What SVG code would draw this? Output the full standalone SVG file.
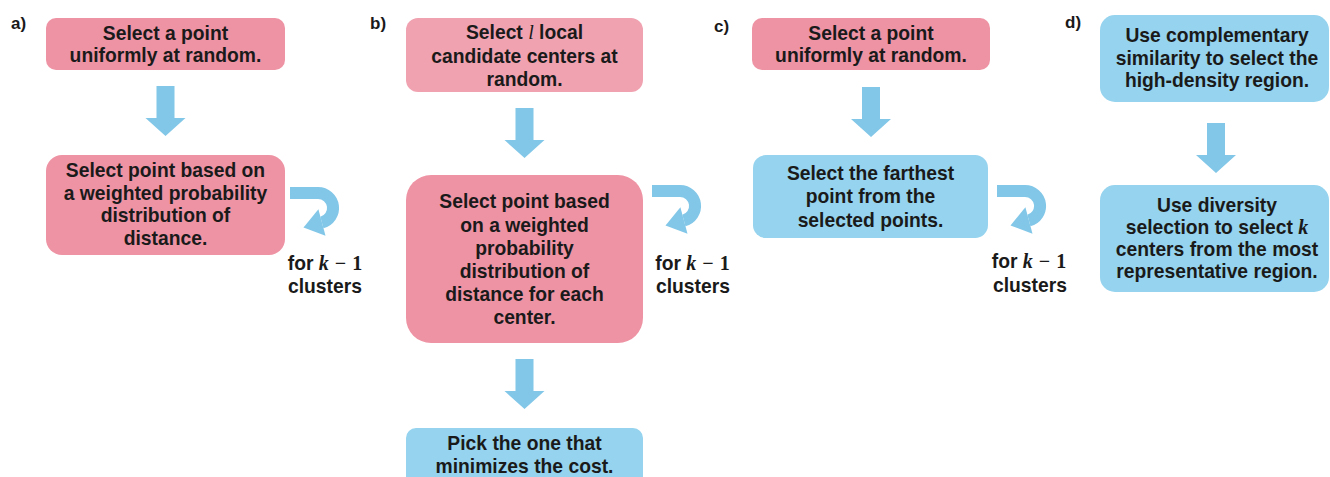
<svg xmlns="http://www.w3.org/2000/svg" width="1330" height="477" viewBox="0 0 1330 477">
<style>
.pink{fill:#EE93A4}
.pinkl{fill:#F0A2B1}
.blue{fill:#95D3EE}
.arr{fill:#82C7E8}
.band{fill:none;stroke:#82C7E8;stroke-width:12}
text{font-family:"Liberation Sans",Arial,sans-serif;font-weight:bold;fill:#1a1a1a}
.t{font-size:19.3px;text-anchor:middle}
.lbl{font-size:17px}
.mi{font-family:"Liberation Serif","Times New Roman",serif;font-style:italic;font-weight:bold;font-size:20px}
.mn{font-family:"Liberation Serif","Times New Roman",serif;font-weight:bold;font-size:20px}
.ml{font-family:"Liberation Serif","Times New Roman",serif;font-style:italic;font-weight:normal;font-size:20px}
</style>
<defs>
<path id="down" class="arr" d="M-9,0 H9 V32 H20 L0,50 L-20,32 H-9 Z"/>
<g id="loop">
<path class="band" d="M0,7 H28 A15,15 0 0 1 31.9,36.5"/>
<polygon class="arr" points="13.5,41.5 35.5,49.8 28.4,23.2"/>
</g>
</defs>

<g id="labels">
<text class="lbl" x="11" y="29">a)</text>
<text class="lbl" x="370" y="29">b)</text>
<text class="lbl" x="714" y="32">c)</text>
<text class="lbl" x="1065" y="28">d)</text>
</g>

<g id="connectors">
<use href="#down" transform="translate(165.5,86)"/>
<use href="#loop" transform="translate(290,186)"/>
<use href="#down" transform="translate(524.5,108)"/>
<use href="#down" transform="translate(524.5,359)"/>
<use href="#loop" transform="translate(652,184)"/>
<use href="#down" transform="translate(871,87)"/>
<use href="#loop" transform="translate(997,184)"/>
<use href="#down" transform="translate(1216,123)"/>
</g>

<g id="a1">
<rect class="pink" x="46" y="18" width="239" height="52" rx="10"/>
<text class="t" x="165.5" y="40">Select a point</text>
<text class="t" x="165.5" y="62">uniformly at random.</text>
</g>
<g id="a2">
<rect class="pink" x="46" y="155" width="239" height="100" rx="16"/>
<text class="t" x="165.5" y="177">Select point based on</text>
<text class="t" x="165.5" y="199.7">a weighted probability</text>
<text class="t" x="165.5" y="222.3">distribution of</text>
<text class="t" x="165.5" y="245">distance.</text>
</g>
<g id="a-loop-label">
<text class="t" x="325" y="270">for <tspan class="mi">k</tspan><tspan class="mn" dx="6">−</tspan><tspan class="mn" dx="6">1</tspan></text>
<text class="t" x="325" y="293">clusters</text>
</g>

<g id="b1">
<rect class="pinkl" x="406" y="18" width="237" height="74" rx="12"/>
<text class="t" x="524.5" y="39">Select <tspan class="ml">l</tspan> local</text>
<text class="t" x="524.5" y="62.5">candidate centers at</text>
<text class="t" x="524.5" y="85.5">random.</text>
</g>
<g id="b2">
<rect class="pink" x="406" y="175" width="237" height="168" rx="25"/>
<text class="t" x="524.5" y="208.3">Select point based</text>
<text class="t" x="524.5" y="231.5">on a weighted</text>
<text class="t" x="524.5" y="254.7">probability</text>
<text class="t" x="524.5" y="277.9">distribution of</text>
<text class="t" x="524.5" y="301.1">distance for each</text>
<text class="t" x="524.5" y="324.3">center.</text>
</g>
<g id="b-loop-label">
<text class="t" x="692.5" y="270">for <tspan class="mi">k</tspan><tspan class="mn" dx="6">−</tspan><tspan class="mn" dx="6">1</tspan></text>
<text class="t" x="693" y="293">clusters</text>
</g>
<g id="b3">
<rect class="blue" x="406" y="428" width="237" height="60" rx="10"/>
<text class="t" x="524.5" y="450">Pick the one that</text>
<text class="t" x="524.5" y="472.7">minimizes the cost.</text>
</g>

<g id="c1">
<rect class="pink" x="752" y="18" width="238" height="52" rx="10"/>
<text class="t" x="871" y="40">Select a point</text>
<text class="t" x="871" y="62">uniformly at random.</text>
</g>
<g id="c2">
<rect class="blue" x="753" y="155" width="235" height="83" rx="13"/>
<text class="t" x="870.5" y="180">Select the farthest</text>
<text class="t" x="870.5" y="203.3">point from the</text>
<text class="t" x="870.5" y="226.7">selected points.</text>
</g>
<g id="c-loop-label">
<text class="t" x="1029" y="268">for <tspan class="mi">k</tspan><tspan class="mn" dx="6">−</tspan><tspan class="mn" dx="6">1</tspan></text>
<text class="t" x="1030" y="292">clusters</text>
</g>

<g id="d1">
<rect class="blue" x="1100" y="15" width="229" height="87" rx="15"/>
<text class="t" x="1217" y="41.7">Use complementary</text>
<text class="t" x="1217" y="65">similarity to select the</text>
<text class="t" x="1217" y="87.3">high-density region.</text>
</g>
<g id="d2">
<rect class="blue" x="1100" y="185" width="229" height="107" rx="15"/>
<text class="t" x="1217" y="211.7">Use diversity</text>
<text class="t" x="1217" y="233.5">selection to select <tspan class="mi">k</tspan></text>
<text class="t" x="1217" y="256">centers from the most</text>
<text class="t" x="1217" y="278.3">representative region.</text>
</g>
</svg>
